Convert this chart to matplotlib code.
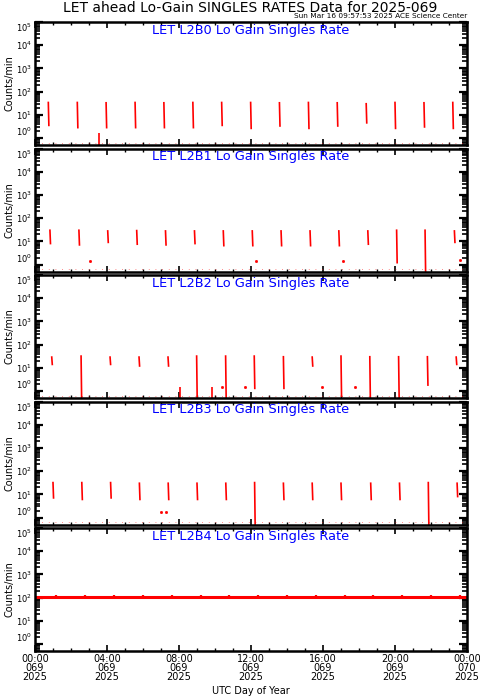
import matplotlib
matplotlib.use("Agg")
import matplotlib.pyplot as plt
from matplotlib.ticker import LogLocator, MultipleLocator, NullFormatter

# hours after 00:00 UTC, day 069 of 2025
hours = [0, 4, 8, 12, 16, 20, 24]
tick_labels = ["00:00\n069\n2025", "04:00\n069\n2025", "08:00\n069\n2025", "12:00\n069\n2025",
               "16:00\n069\n2025", "20:00\n069\n2025", "00:00\n070\n2025"]

panel_names = ["LET L2B0 Lo Gain Singles Rate", "LET L2B1 Lo Gain Singles Rate",
               "LET L2B2 Lo Gain Singles Rate", "LET L2B3 Lo Gain Singles Rate",
               "LET L2B4 Lo Gain Singles Rate"]

# spikes (time, top, bottom) for each panel
b0_t = [0.74, 2.35, 3.95, 5.56, 7.16, 8.77, 10.37, 11.98, 13.58, 15.19, 16.79, 18.40, 20.00, 21.61, 23.21]
b0_top = [34, 34, 33, 34, 33, 34, 34, 34, 33, 34, 33, 30, 34, 33, 34]
b0_bot = [3.5, 2.8, 2.8, 2.8, 2.8, 2.8, 3.5, 2.6, 3.3, 2.6, 3.3, 4.5, 2.6, 3.0, 2.6]

b1_t = [0.83, 2.44, 4.04, 5.65, 7.25, 8.86, 10.46, 12.07, 13.67, 15.28, 16.88, 18.49, 20.09, 21.67, 23.30]
b1_top = [30, 30, 28, 29, 28, 28, 28, 28, 28, 28, 28, 28, 30, 30, 28]
b1_bot = [8, 7, 9, 7.5, 7, 8, 6.5, 6.5, 6.5, 6.5, 6.5, 7.5, 1.2, 0.5, 9]

b2_t = [0.93, 2.56, 4.17, 5.78, 7.39, 8.98, 10.59, 12.18, 13.80, 15.40, 17.00, 18.60, 20.20, 21.80, 23.40]
b2_top = [29, 32, 29, 29, 29, 32, 32, 32, 30, 29, 32, 30, 30, 30, 29]
b2_bot = [14, 0.5, 14, 12, 12, 0.5, 0.5, 1.3, 1.3, 12, 0.6, 0.5, 0.5, 1.8, 14]

b3_t = [1.00, 2.60, 4.20, 5.80, 7.40, 9.00, 10.60, 12.20, 13.80, 15.40, 17.00, 18.65, 20.25, 21.85, 23.45]
b3_top = [32, 32, 32, 30, 30, 30, 30, 32, 30, 30, 30, 30, 30, 32, 30]
b3_bot = [7, 6, 7, 6, 6, 6, 6, 0.5, 6, 6, 6, 6, 6, 0.5, 8]

b4_level = 105
b4_bump_t = [1.17, 2.78, 4.39, 5.98, 7.59, 9.20, 10.79, 12.40, 14.00, 15.60, 17.20, 18.80, 20.40, 22.00, 23.60]
b4_bump = 135

# little isolated points / short lines near the bottom
b0_extra_t = [3.55, 5.20]
b0_extra_lo = [0.5, 1.8]
b0_extra_hi = [1.7, 1.8]
b1_extra_t = [3.05, 12.30, 17.10, 23.60]
b1_extra_v = [1.4, 1.4, 1.4, 1.5]
b2_extra_t = [8.06, 9.81]
b2_extra_hi = [1.5, 1.5]
b2_dots_t = [10.37, 11.67, 15.93, 17.78]
b2_dots_v = [1.5, 1.5, 1.5, 1.5]
b3_dots_t = [7.0, 7.3]
b3_dots_v = [1.7, 1.7]

baseline = 0.62
red = "#ff0000"

fig = plt.figure(figsize=(4.81, 7.0), dpi=100)
W, H = 481.0, 700.0
left, right = 35, 467
top0, ph, step = 22, 123, 126.5

fig.text(250 / W, 1 - 8 / H, "LET ahead Lo-Gain SINGLES RATES Data for 2025-069",
         ha="center", va="center", fontsize=10)
fig.text(right / W, 1 - 16.5 / H, "Sun Mar 16 09:57:53 2025 ACE Science Center",
         ha="right", va="center", fontsize=5.3)

spikes = [(b0_t, b0_top, b0_bot), (b1_t, b1_top, b1_bot), (b2_t, b2_top, b2_bot), (b3_t, b3_top, b3_bot)]

axes = []
for i in range(5):
    y0 = top0 + i * step
    ax = fig.add_axes([left / W, 1 - (y0 + ph) / H, (right - left) / W, ph / H])
    axes.append(ax)
    ax.set_yscale("log")
    ax.set_ylim(0.5, 1e5)
    ax.set_xlim(0, 24)

    if i < 4:
        ax.axhline(baseline, color=red, lw=0.6, dashes=(1, 7), alpha=0.6)
        t, tp, bt = spikes[i]
        for k in range(len(t)):
            ax.plot([t[k], t[k] + 0.03], [tp[k], bt[k]], color=red, lw=1.2)
    else:
        ax.plot([0, 24], [b4_level, b4_level], color=red, lw=2.2)
        ax.vlines(b4_bump_t, b4_level, b4_bump, color=red, lw=1.6)

    ax.text(0.5, 0.985, panel_names[i], transform=ax.transAxes, ha="center", va="top",
            color="#0000ff", fontsize=9.3)
    ax.set_ylabel("Counts/min", fontsize=7, labelpad=1)

    ax.yaxis.set_minor_locator(LogLocator(base=10, subs=range(2, 10), numticks=10))
    ax.yaxis.set_minor_formatter(NullFormatter())
    ax.set_yticks([1, 10, 100, 1e3, 1e4, 1e5])
    ax.xaxis.set_major_locator(MultipleLocator(4))
    ax.xaxis.set_minor_locator(MultipleLocator(1))
    ax.tick_params(which="both", direction="in", top=True, right=True, labelsize=6, pad=2)
    ax.tick_params(axis="y", which="major", length=6, width=1.6)
    ax.tick_params(axis="y", which="minor", length=3.5, width=1.2)
    ax.tick_params(axis="x", which="major", length=4, width=1.2)
    ax.tick_params(axis="x", which="minor", length=2, width=1.0)
    for s in ax.spines.values():
        s.set_linewidth(1.8)
    if i < 4:
        ax.set_xticklabels([])
    # keep the 10^0 / 10^5 labels of adjacent panels apart
    ylabs = ax.get_yticklabels()
    ylabs[0].set_va("bottom")
    ylabs[-1].set_va("top")

# extras
axes[0].vlines(b0_extra_t, b0_extra_lo, b0_extra_hi, color=red, lw=1.2)
axes[1].plot(b1_extra_t, b1_extra_v, "s", color=red, ms=1.0)
axes[2].vlines(b2_extra_t, 0.5, b2_extra_hi, color=red, lw=1.2)
axes[2].plot(b2_dots_t, b2_dots_v, "s", color=red, ms=1.0)
axes[3].plot(b3_dots_t, b3_dots_v, "s", color=red, ms=1.0)

axes[4].set_xticks(hours)
axes[4].set_xticklabels(tick_labels, fontsize=7, linespacing=0.9)
axes[4].tick_params(axis="x", pad=2)
axes[4].set_xlabel("UTC Day of Year", fontsize=7, labelpad=3)

fig.savefig("out.png", dpi=100)
